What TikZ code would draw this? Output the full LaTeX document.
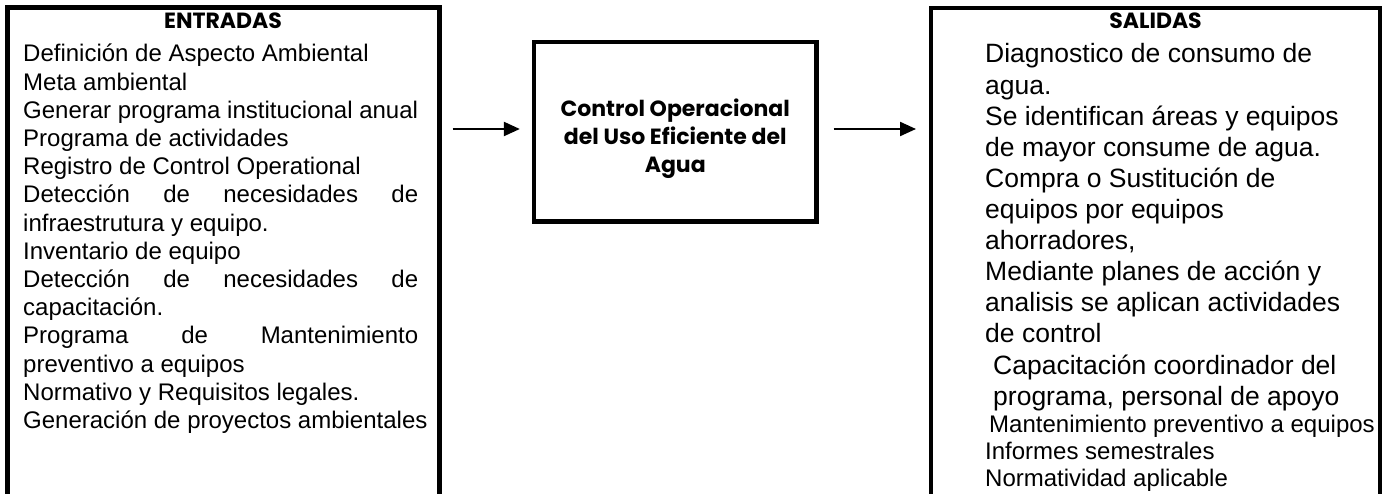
\documentclass[tikz,border=0pt]{standalone}
\usepackage{fontspec}
\setmainfont{Liberation Sans}
\newfontfamily\gothic{Poppins}
\usetikzlibrary{arrows.meta, positioning}

\begin{document}
\begin{tikzpicture}[x = 1pt, y = -1pt,
		caja/.style = {line width = 4.3pt},
		flecha/.style = {line width = 2.2pt, -{Triangle[length = 16pt, width = 14pt]}},
		titulo/.style = {font = \gothic\bfseries\fontsize{22}{24}\selectfont, inner sep = 0pt, anchor = base},
		renglon/.style = {font = \fontsize{24}{28}\selectfont, inner sep = 0pt, anchor = base west},
		renglongrande/.style = {font = \fontsize{26.5}{31}\selectfont, inner sep = 0pt, anchor = base west},
		renglonchico/.style = {font = \fontsize{24}{27}\selectfont, inner sep = 0pt, anchor = base west}]

	\useasboundingbox (0,0) rectangle (1390,494);

	% cajas laterales, abiertas por abajo
	\draw [caja] (7.5,500) -- (7.5,7.5) -- (439.5,7.5) -- (439.5,500);
	\draw [caja] (931,500) -- (931,8) -- (1380,8) -- (1380,500);

	\coordinate (entradas) at (439.5,129);
	\coordinate (salidas) at (931,129);

	% caja del proceso
	\node [caja, draw, minimum width = 282.5pt, minimum height = 179.5pt, inner sep = 0pt] (proceso) at (675.25,131.75) {};
	\node [align = center, inner sep = 0pt, font = \gothic\bfseries\fontsize{22}{28}\selectfont] (proceso-txt)
		at ([yshift = -7pt]proceso.center) {Control Operacional\\del Uso Eficiente del\\Agua};

	\draw [flecha, shorten <= 13pt, shorten >= 12pt] (entradas) -- (entradas -| proceso.west);
	\draw [flecha, shorten <= 15pt, shorten >= 15pt] (entradas -| proceso.east) -- (salidas);

	% entradas
	\node [titulo] (entradas-tit) at (223,29) {ENTRADAS};
	\foreach \linea [count = \i] in {Definición de Aspecto Ambiental, Meta ambiental,
		Generar programa institucional anual, Programa de actividades,
		Registro de Control Operational, {\makebox[395pt][s]{Detección de necesidades de}},
		infraestrutura y equipo., Inventario de equipo,
		{\makebox[395pt][s]{Detección de necesidades de}}, capacitación.,
		{\makebox[395pt][s]{Programa de Mantenimiento}}, preventivo a equipos,
		Normativo y Requisitos legales., Generación de proyectos ambientales}
	{
		\node [renglon] (ent-\i) at (23,{62 + 28.2*(\i - 1)}) {\linea};
	}

	% salidas
	\node [titulo] (salidas-tit) at (1155.5,29) {SALIDAS};
	\foreach \linea [count = \i] in {Diagnostico de consumo de, agua.,
		Se identifican áreas y equipos, de mayor consume de agua.,
		Compra o Sustitución de, equipos por equipos, {ahorradores,},
		Mediante planes de acción y, analisis se aplican actividades, de control,
		{\hspace{8pt}Capacitación coordinador del}, {\hspace{8pt}programa, personal de apoyo}}
	{
		\node [renglongrande] (sal-\i) at (985,{63 + 31.1*(\i - 1)}) {\linea};
	}
	\foreach \linea [count = \i] in {{\hspace{4pt}Mantenimiento preventivo a equipos},
		Informes semestrales, Normatividad aplicable}
	{
		\node [renglonchico] (salb-\i) at (985,{432 + 27*(\i - 1)}) {\linea};
	}
\end{tikzpicture}
\end{document}
